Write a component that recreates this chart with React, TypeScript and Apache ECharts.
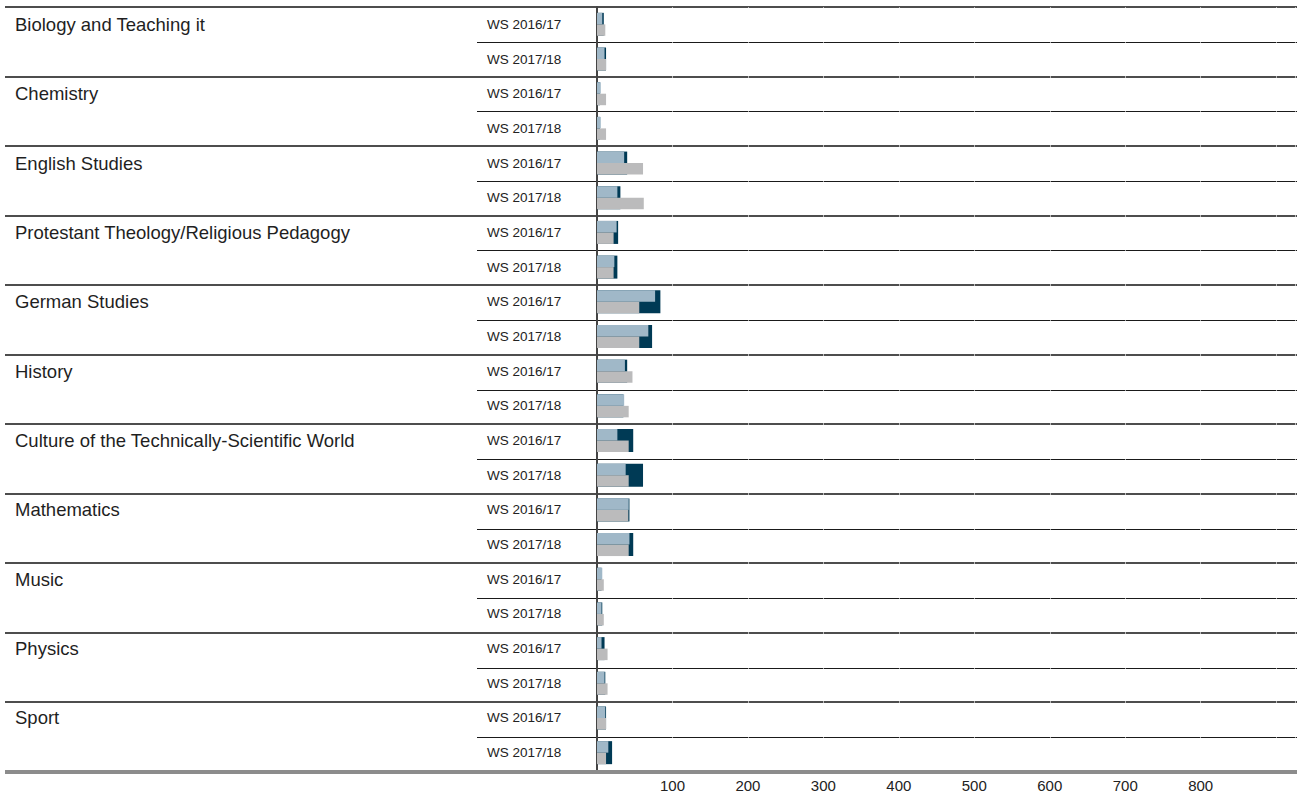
import React, { useEffect, useRef } from "react";
import * as echarts from "echarts";

// Categories
const subjects = [
  "Biology and Teaching it",
  "Chemistry",
  "English Studies",
  "Protestant Theology/Religious Pedagogy",
  "German Studies",
  "History",
  "Culture of the Technically-Scientific World",
  "Mathematics",
  "Music",
  "Physics",
  "Sport",
];
const semesters = ["WS 2016/17", "WS 2017/18"];

// Values per row (subject-major: each subject WS 2016/17, then WS 2017/18)
const lightBlueValues = [
  7, 10, 5, 5, 36, 27, 26, 23, 77, 68, 37, 36, 27, 38, 42, 43, 7, 6, 6, 10, 11, 15,
];
const navyValues = [
  9, 12, 4, 4, 40, 31, 28, 27, 84, 73, 40, 35, 48, 61, 43, 48, 6, 7, 10, 11, 12, 20,
];
const grayValues = [
  11, 12, 12, 12, 61, 62, 22, 22, 56, 56, 47, 42, 42, 42, 41.5, 42, 9, 9, 14, 14, 12, 12,
];

// Tick labels on the value axis
const xTickLabels = [100, 200, 300, 400, 500, 600, 700, 800];

const W = 1298;
const H = 793;
const GRID_LEFT = 597;
const GRID_RIGHT = 1;
const GRID_TOP = 7;
const GRID_BOTTOM = 21;
const FONT = "'Liberation Sans', Arial, Helvetica, sans-serif";

export default function App() {
  const ref = useRef<HTMLDivElement>(null);

  useEffect(() => {
    if (!ref.current) return;
    const chart = echarts.init(ref.current, null, { renderer: "svg" });

    const rows: string[] = [];
    const semesterLabels: string[] = [];
    const subjectLabels: string[] = [];
    subjects.forEach((s) => {
      semesters.forEach((t, j) => {
        rows.push(s + "|" + t);
        semesterLabels.push(t);
        subjectLabels.push(j === 0 ? s : "");
      });
    });

    const nRows = rows.length;
    const plotH = H - GRID_TOP - GRID_BOTTOM;
    const rowH = plotH / nRows;
    const xRight = W - GRID_RIGHT;

    const graphics: any[] = [];
    for (let k = 0; k < subjects.length; k++) {
      const y = Math.round(GRID_TOP + 2 * k * rowH);
      graphics.push({
        type: "line",
        z: -1,
        silent: true,
        shape: { x1: 5, y1: y, x2: xRight, y2: y },
        style: { stroke: "#4d4d4d", lineWidth: 2 },
      });
      const y2 = Math.round(GRID_TOP + (2 * k + 1) * rowH) + 0.5;
      graphics.push({
        type: "line",
        z: -1,
        silent: true,
        shape: { x1: 477, y1: y2, x2: xRight, y2: y2 },
        style: { stroke: "#1a1a1a", lineWidth: 1 },
      });
    }
    const yb = H - GRID_BOTTOM;
    graphics.push({
      type: "line",
      z: 10,
      silent: true,
      shape: { x1: 5, y1: yb, x2: xRight, y2: yb },
      style: { stroke: "#8c8c8c", lineWidth: 4 },
    });

    const baseCat = {
      type: "category" as const,
      data: rows,
      inverse: true,
      position: "left" as const,
      axisTick: { show: false },
      splitLine: { show: false },
    };

    chart.setOption({
      animation: false,
      backgroundColor: "#ffffff",
      grid: {
        left: GRID_LEFT,
        right: GRID_RIGHT,
        top: GRID_TOP,
        bottom: GRID_BOTTOM,
        containLabel: false,
      },
      xAxis: {
        type: "value",
        min: 0,
        max: 925,
        interval: 100,
        axisLine: { show: false },
        axisTick: { show: false },
        splitLine: {
          show: true,
          lineStyle: { color: "rgba(255,255,255,0.6)", width: 1 },
        },
        axisLabel: {
          margin: 8,
          fontSize: 15,
          color: "#222222",
          fontFamily: FONT,
          formatter: (v: number) => (xTickLabels.includes(v) ? String(v) : ""),
        },
      },
      yAxis: [
        {
          ...baseCat,
          axisLine: { show: true, lineStyle: { color: "#444444", width: 2 } },
          axisLabel: {
            interval: 0,
            margin: GRID_LEFT - 487,
            align: "left",
            fontSize: 13.5,
            color: "#222222",
            fontFamily: FONT,
            padding: [0, 0, 3, 0],
            formatter: (_v: string, i: number) => semesterLabels[i],
          },
        },
        {
          ...baseCat,
          axisLine: { show: false },
          axisLabel: {
            interval: 0,
            margin: GRID_LEFT - 15,
            align: "left",
            fontSize: 18.5,
            color: "#1f1f1f",
            fontFamily: FONT,
            formatter: (_v: string, i: number) => subjectLabels[i],
          },
        },
        {
          ...baseCat,
          show: false,
          axisLine: { show: false },
          axisLabel: { show: false },
        },
      ],
      series: [
        {
          name: "navy",
          type: "bar",
          yAxisIndex: 2,
          data: navyValues,
          barWidth: 23,
          itemStyle: { color: "#003a55" },
          z: 2,
          silent: true,
        },
        {
          name: "lightBlue",
          type: "bar",
          yAxisIndex: 0,
          data: lightBlueValues,
          barWidth: 11.5,
          barGap: "0%",
          itemStyle: { color: "#a0b8c8" },
          z: 3,
          silent: true,
        },
        {
          name: "gray",
          type: "bar",
          yAxisIndex: 0,
          data: grayValues,
          barWidth: 11.5,
          barGap: "0%",
          itemStyle: { color: "#bbbbbc" },
          z: 3,
          silent: true,
        },
      ],
      graphic: { elements: graphics },
    });

    return () => chart.dispose();
  }, []);

  return (
    <div
      ref={ref}
      style={{ position: "absolute", left: 0, top: 0, width: W, height: H }}
    />
  );
}
